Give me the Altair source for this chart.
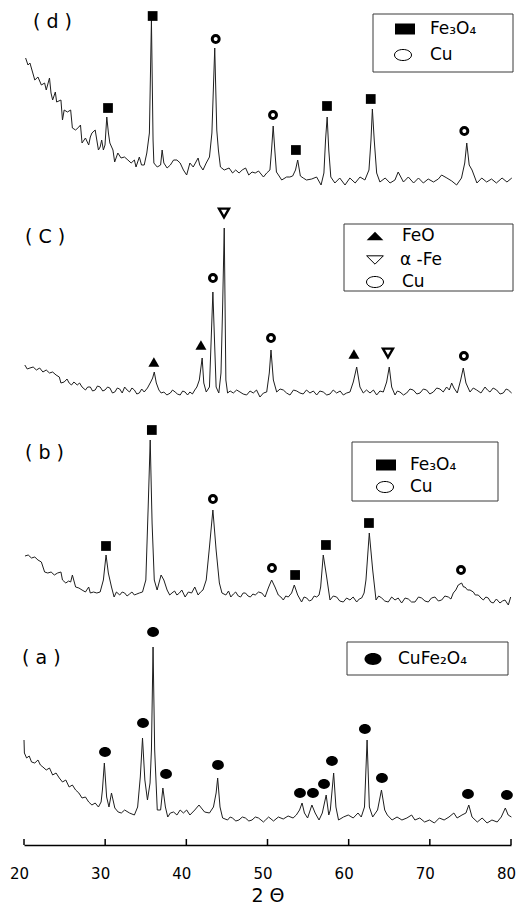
import altair as alt
import pandas as pd

# ---------------- data ----------------
# (2-theta in degrees, intensity in offset arbitrary units; patterns are stacked)
TRACE_D = [(20.2,787),(20.49,780),(20.73,782),(21.05,773),(21.33,765),(21.72,768),(22.14,760),(22.54,762),
           (22.74,755),(23.14,767),(23.33,752),(23.53,745),(23.86,753),(24.02,743),(24.55,745),(24.74,725),
           (24.95,735),(25.35,733),(25.75,735),(25.96,717),(26.36,715),(26.76,718),(26.96,720),(27.15,702),
           (27.57,707),(27.97,700),(28.17,708),(28.37,712),(28.77,715),(29.17,695),(29.38,698),(29.57,705),
           (29.78,695),(29.98,700),(30.2,728),(30.4,712),(30.58,702),(30.96,695),(31.17,683),(31.56,692),
           (31.96,687),(32.38,688),(32.8,685),(33.2,682),(33.6,685),(33.8,678),(34.21,688),(34.48,680),
           (34.81,680),(35.13,692),(35.45,712),(35.7,825),(35.9,705),(36.0,682),(36.2,680),(36.42,678),
           (36.83,680),(37.02,695),(37.23,682),(37.63,677),(38.03,680),(38.43,685),(38.84,685),(39.24,682),
           (39.64,675),(40.04,670),(40.44,682),(40.85,678),(41.45,687),(41.65,680),(42.05,675),(42.45,682),
           (42.85,688),(43.15,712),(43.5,797),(43.75,715),(43.95,695),(44.2,678),(44.67,675),(45.27,677),
           (45.7,672),(46.08,675),(46.5,672),(46.88,675),(47.3,677),(47.69,670),(48.1,673),(48.49,672),
           (48.9,674),(49.5,668),(49.9,672),(50.3,675),(50.5,695),(50.7,719),(50.9,695),(51.1,673),
           (51.35,670),(51.75,665),(52.35,668),(52.75,668),(53.1,669),(53.45,675),(53.72,685),(54.05,669),
           (54.4,667),(54.8,665),(55.45,666),(56.05,668),(56.6,660),(56.95,672),(57.15,705),(57.35,728),
           (57.55,695),(57.8,668),(58.3,662),(58.9,667),(59.55,660),(60.15,667),(60.8,662),(61.4,668),
           (62.0,665),(62.5,675),(62.75,705),(62.92,736),(63.15,705),(63.45,672),(63.85,663),(64.5,667),
           (65.1,662),(65.7,665),(66.1,673),(66.75,663),(67.35,668),(68.0,662),(68.6,667),(69.2,662),
           (69.8,666),(70.45,663),(71.05,666),(71.45,670),(72.1,667),(72.7,664),(73.3,660),(73.9,667),
           (74.3,682),(74.55,702),(74.85,680),(75.2,675),(75.8,662),(76.4,667),(77.0,663),(77.6,666),
           (78.2,662),(78.9,667),(79.5,663),(80.1,667)]

TRACE_C = [(20.1,480),(20.4,476),(20.73,477),(21.13,478),(21.53,475),(21.93,477),(22.33,473),(22.74,475),
           (23.14,472),(23.53,473),(23.95,470),(24.35,468),(24.55,462),(24.95,463),(25.3,466),(25.56,462),
           (25.85,460),(26.15,463),(26.56,460),(26.85,462),(27.15,458),(27.57,455),(27.85,458),(28.17,458),
           (28.45,454),(28.77,455),(29.05,459),(29.38,458),(29.7,454),(29.98,455),(30.3,458),(30.58,457),
           (30.9,452),(31.19,453),(31.5,457),(31.79,456),(32.1,452),(32.4,458),(32.7,455),(33.0,453),
           (33.3,457),(33.6,455),(33.9,451),(34.21,452),(34.5,456),(34.81,453),(35.21,457),(35.61,463),
           (35.85,467),(36.05,473),(36.3,462),(36.62,455),(36.9,452),(37.23,453),(37.6,450),(38.03,452),
           (38.3,455),(38.62,453),(38.9,451),(39.24,450),(39.55,454),(39.85,453),(40.15,450),(40.44,453),
           (40.75,451),(41.04,455),(41.3,458),(41.6,465),(41.95,487),(42.15,462),(42.45,453),(42.85,458),
           (43.06,505),(43.27,553),(43.47,505),(43.67,458),(44.0,452),(44.27,472),(44.47,538),(44.67,617),
           (44.87,465),(45.08,452),(45.4,454),(45.79,452),(46.2,455),(46.61,453),(47.0,451),(47.43,450),
           (47.85,454),(48.25,452),(48.65,455),(49.07,448),(49.5,452),(49.9,453),(50.22,472),(50.43,495),
           (50.72,465),(51.13,453),(51.55,456),(51.95,455),(52.35,452),(52.77,450),(53.2,455),(53.6,454),
           (54.0,452),(54.4,451),(54.8,455),(55.23,452),(55.65,454),(56.06,450),(56.45,454),(56.87,453),
           (57.3,450),(57.7,451),(58.1,455),(58.52,452),(58.95,454),(59.34,450),(59.75,452),(60.16,453),
           (60.57,463),(60.99,478),(61.39,458),(61.8,452),(62.2,455),(62.63,452),(63.05,455),(63.45,450),
           (63.85,454),(64.27,453),(64.68,463),(65.0,478),(65.3,458),(65.71,450),(66.0,454),(66.32,453),
           (66.75,450),(67.15,452),(67.55,456),(67.96,455),(68.4,451),(68.79,452),(69.2,456),(69.6,455),
           (70.0,451),(70.43,453),(70.85,457),(71.25,456),(71.65,453),(72.07,458),(72.4,455),(72.69,462),
           (72.97,457),(73.38,452),(73.8,465),(74.12,477),(74.45,462),(74.95,453),(75.35,457),(75.77,455),
           (76.3,452),(76.8,458),(77.1,455),(77.41,453),(77.8,457),(78.23,455),(78.65,451),(79.05,452),
           (79.4,456),(79.67,455),(80.08,452)]

TRACE_B = [(20.12,289),(20.52,290),(20.92,287),(21.33,288),(21.72,285),(22.14,283),(22.54,273),(22.93,272),
           (23.34,273),(23.74,270),(24.14,272),(24.55,273),(24.74,265),(25.15,262),(25.5,264),(25.75,263),
           (25.96,270),(26.36,258),(26.76,257),(27.15,255),(27.57,253),(27.97,258),(28.17,252),(28.57,253),
           (28.97,252),(29.38,253),(29.78,265),(30.11,290),(30.39,272),(30.78,258),(31.1,248),(31.39,253),
           (31.79,250),(32.1,253),(32.4,252),(32.7,249),(33.0,251),(33.3,253),(33.6,250),(33.9,251),
           (34.21,252),(34.6,253),(35.01,265),(35.3,338),(35.55,405),(35.78,322),(36.05,265),(36.4,255),
           (36.89,270),(37.23,265),(37.63,255),(37.95,250),(38.23,252),(38.55,254),(38.84,250),(39.15,252),
           (39.44,255),(39.85,248),(40.25,253),(40.65,252),(41.04,258),(41.45,250),(41.75,253),(42.05,255),
           (42.45,265),(42.85,298),(43.27,335),(43.67,295),(44.07,262),(44.39,252),(44.87,250),(45.2,254),
           (45.48,248),(45.8,251),(46.08,253),(46.4,249),(46.69,248),(47.0,252),(47.28,252),(47.6,249),
           (47.89,248),(48.2,251),(48.49,250),(48.9,253),(49.3,252),(49.7,248),(50.1,257),(50.51,265),
           (50.92,258),(51.33,250),(51.65,248),(51.95,245),(52.25,249),(52.56,248),(52.97,252),(53.3,260),
           (53.72,250),(54.2,243),(54.5,248),(54.83,247),(55.15,244),(55.44,245),(55.75,249),(56.06,248),
           (56.35,250),(56.55,258),(56.87,290),(57.29,268),(57.7,245),(58.1,249),(58.52,248),(58.9,244),
           (59.34,243),(59.75,247),(60.16,245),(60.55,248),(60.99,243),(61.3,246),(61.6,247),(61.9,252),
           (62.13,265),(62.54,312),(62.96,275),(63.37,245),(63.7,249),(64.07,247),(64.45,244),(64.88,243),
           (65.3,248),(65.71,245),(66.1,247),(66.53,242),(66.95,247),(67.35,246),(67.75,243),(68.17,243),
           (68.6,248),(68.99,247),(69.4,244),(69.81,243),(70.2,247),(70.63,248),(71.05,244),(71.46,245),
           (71.85,249),(72.28,248),(72.6,246),(72.89,252),(73.2,255),(73.5,260),(73.92,262),(74.15,258),
           (74.33,258),(74.65,255),(74.95,255),(75.36,253),(75.6,250),(75.97,250),(76.3,247),(76.59,245),
           (76.9,248),(77.2,247),(77.5,243),(77.82,242),(78.2,246),(78.64,242),(78.95,244),(79.26,245),
           (79.67,240),(79.96,248)]

TRACE_A = [(20.0,105),(20.05,92),(20.32,87),(20.64,89),(20.93,83),(21.33,82),(21.72,85),(22.02,80),
           (22.33,78),(22.74,75),(23.14,77),(23.53,70),(23.95,72),(24.35,67),(24.74,63),(25.15,65),
           (25.56,58),(25.96,60),(26.36,55),(26.76,52),(27.15,47),(27.57,48),(27.97,43),(28.37,40),
           (28.77,42),(29.17,38),(29.5,43),(29.66,55),(29.9,82),(30.18,48),(30.47,38),(30.78,52),
           (31.19,37),(31.6,33),(31.99,32),(32.4,35),(33.0,32),(33.6,30),(34.0,38),(34.33,68),
           (34.6,107),(34.89,65),(35.21,45),(35.53,62),(35.7,95),(35.9,198),(36.1,95),(36.42,35),
           (36.83,35),(37.11,57),(37.42,38),(37.71,28),(38.03,32),(38.43,33),(38.84,30),(39.24,35),
           (39.64,32),(40.04,35),(40.44,30),(41.04,35),(41.56,40),(41.85,37),(42.25,33),(42.85,32),
           (43.34,38),(43.67,52),(43.86,67),(44.15,38),(44.47,27),(45.08,25),(45.4,28),(45.68,27),
           (46.1,24),(46.48,25),(46.9,28),(47.28,27),(47.7,24),(48.09,25),(48.5,28),(48.89,27),
           (49.2,25),(49.5,23),(49.75,25),(50.14,28),(50.74,24),(51.34,28),(51.94,26),(52.54,29),
           (53.15,27),(53.55,30),(53.95,35),(54.26,42),(54.55,32),(54.94,27),(55.47,40),(55.87,32),
           (56.35,25),(56.75,32),(57.23,50),(57.55,30),(57.74,35),(58.15,72),(58.43,38),(58.75,25),
           (59.36,28),(59.95,30),(60.56,27),(61.15,32),(61.55,28),(61.95,38),(62.27,105),(62.55,38),
           (62.96,28),(63.56,35),(64.04,55),(64.44,35),(64.76,30),(65.35,25),(65.96,28),(66.56,25),
           (67.17,27),(67.76,30),(68.16,25),(68.76,27),(69.36,23),(69.96,25),(70.56,22),(71.17,27),
           (71.76,25),(72.36,28),(72.96,32),(73.36,27),(73.96,30),(74.45,32),(74.8,40),(75.2,28),
           (75.85,23),(76.45,27),(77.05,22),(77.65,25),(78.3,23),(78.8,28),(79.3,37),(79.65,30),
           (80.05,28)]

# peak identification symbols (2-theta, height of the symbol)
PEAKS_FE3O4 = [(30.35,737),(35.85,829),(53.5,695),(57.33,739),(62.72,746),
               (30.1,299),(35.75,415),(53.4,270),(57.2,300),(62.5,322)]
PEAKS_CU = [(43.62,806),(50.68,730),(74.25,714),
            (43.28,567),(50.43,507),(74.2,489),
            (43.28,346),(50.55,277),(73.84,275)]
PEAKS_FEO = [(36.0,483),(41.8,500),(60.65,491)]
PEAKS_AFE = [(44.64,632),(64.84,492)]
PEAKS_CUFE2O4 = [(29.98,93),(34.66,122),(35.9,213),(37.5,71),(43.9,80),(54.0,52),(55.6,52),
                 (56.96,61),(57.94,84),(62.0,116),(64.1,67),(74.7,51),(79.5,50)]

TICKS = [20, 30, 40, 50, 60, 70, 80]
PANEL_NAMES = ["( d )", "( C )", "( b )", "( a )"]
LEGEND_LABELS = ["Fe\u2083O\u2084", "Cu", "FeO", "\u03b1 -Fe", "Cu", "Fe\u2083O\u2084", "Cu", "CuFe\u2082O\u2084"]
LEGEND_KINDS = ["sq", "oc", "tu", "td", "oc", "sq", "oc", "fc"]

# ---------------- layout (page pixels) ----------------
OX = 24                    # left edge of plot area on the page
PLOT_W, PLOT_H = 487, 845
PANEL_POS = [(33, 22), (25, 237), (25, 453), (22, 658)]
LEGEND_BOX = [(373, 14, 513, 72), (344, 224, 513, 291), (352, 442, 498, 501), (347, 642, 508, 675)]
LEGEND_SYM = [(405, 29), (403, 55), (375, 236), (375, 260), (375, 282), (386, 465), (385, 487), (373, 659)]
LEGEND_TXT = [(430, 29), (430, 55), (402, 236), (400, 260), (402, 282), (410, 465), (410, 487), (398, 659)]

FONT = "DejaVu Sans"
XS = alt.Scale(domain=[20, 80], nice=False, zero=False)
YS = alt.Scale(domain=[0, PLOT_H], nice=False, zero=False)
XAXIS = alt.Axis(
    values=TICKS, format="d", title="2  \u0398", grid=False, ticks=False, tickSize=0,
    domain=True, domainColor="black", domainWidth=1.5,
    labelFont=FONT, labelFontSize=15, labelColor="black", labelPadding=21,
    labelOffset=-5, labelFlush=False,
    titleFont=FONT, titleFontSize=19, titleFontWeight="normal", titleColor="black",
    titlePadding=5)

# ---------------- traces ----------------
rows = []
for name, tr in [("d", TRACE_D), ("c", TRACE_C), ("b", TRACE_B), ("a", TRACE_A)]:
    for k, (t, v) in enumerate(tr):
        rows.append({"pattern": name, "theta": t, "intensity": v, "k": k})
lines_df = pd.DataFrame(rows)

lines = alt.Chart(lines_df).mark_line(color="#1e1e1e", strokeWidth=1).encode(
    x=alt.X("theta:Q", scale=XS, axis=XAXIS),
    y=alt.Y("intensity:Q", scale=YS, axis=None),
    detail="pattern:N",
    order="k:Q",
)

ticks = alt.Chart(pd.DataFrame({"theta": TICKS})).mark_rule(color="black", strokeWidth=1.5).encode(
    x=alt.X("theta:Q", scale=XS, axis=XAXIS),
    y=alt.value(PLOT_H - 6), y2=alt.value(PLOT_H),
)


def peak_layer(points, **mark):
    df = pd.DataFrame(points, columns=["theta", "intensity"])
    return alt.Chart(df).mark_point(**mark).encode(
        x=alt.X("theta:Q", scale=XS, axis=XAXIS),
        y=alt.Y("intensity:Q", scale=YS, axis=None),
    )


ELLIPSE_FILLED = "M-1,0A1,0.83,0,1,0,1,0A1,0.83,0,1,0,-1,0Z"
peaks = [
    peak_layer(PEAKS_FE3O4, shape="square", filled=True, size=95, color="black", opacity=1),
    peak_layer(PEAKS_CU, shape="circle", filled=False, size=48, strokeWidth=3, color="black", opacity=1),
    peak_layer(PEAKS_FEO, shape="triangle-up", filled=True, size=120, color="black", opacity=1),
    peak_layer(PEAKS_AFE, shape="triangle-down", filled=False, size=100, strokeWidth=2.4, color="black", opacity=1),
    peak_layer(PEAKS_CUFE2O4, shape=ELLIPSE_FILLED, filled=True, size=140, color="black", opacity=1),
]

# ---------------- panel labels ----------------
panel_df = pd.DataFrame({"label": PANEL_NAMES,
                         "px": [p[0] - OX for p in PANEL_POS],
                         "py": [p[1] for p in PANEL_POS]})
panels = alt.Chart(panel_df).mark_text(align="left", baseline="middle", font=FONT, fontSize=19,
                                       color="black").encode(
    x=alt.X("px:Q", scale=None, axis=None), y=alt.Y("py:Q", scale=None, axis=None), text="label:N")

# ---------------- legend boxes ----------------
box_df = pd.DataFrame({"x0": [b[0] - OX for b in LEGEND_BOX], "y0": [b[1] for b in LEGEND_BOX],
                       "x1": [b[2] - OX for b in LEGEND_BOX], "y1": [b[3] for b in LEGEND_BOX]})
boxes = alt.Chart(box_df).mark_rect(fillOpacity=0, stroke="#3a3a3a", strokeWidth=1).encode(
    x=alt.X("x0:Q", scale=None, axis=None), x2="x1:Q",
    y=alt.Y("y0:Q", scale=None, axis=None), y2="y1:Q")

leg_df = pd.DataFrame({"kind": LEGEND_KINDS, "label": LEGEND_LABELS,
                       "sx": [s[0] - OX for s in LEGEND_SYM], "sy": [s[1] for s in LEGEND_SYM],
                       "tx": [t[0] - OX for t in LEGEND_TXT], "ty": [t[1] for t in LEGEND_TXT]})

SYM_STYLE = {
    "sq": dict(shape="M-1,-0.55L1,-0.55L1,0.55L-1,0.55Z", filled=True, size=400),
    "oc": dict(shape="M-1,0A1,0.65,0,1,0,1,0A1,0.65,0,1,0,-1,0Z", filled=False, size=289, strokeWidth=1),
    "tu": dict(shape="M-1,0.5L1,0.5L0,-0.5Z", filled=True, size=280),
    "td": dict(shape="M-1,-0.5L1,-0.5L0,0.5Z", filled=False, size=280, strokeWidth=1),
    "fc": dict(shape="M-1,0A1,0.7,0,1,0,1,0A1,0.7,0,1,0,-1,0Z", filled=True, size=289),
}
leg_syms = []
for kind, style in SYM_STYLE.items():
    leg_syms.append(
        alt.Chart(leg_df).transform_filter(alt.datum.kind == kind)
        .mark_point(color="black", opacity=1, **style)
        .encode(x=alt.X("sx:Q", scale=None, axis=None), y=alt.Y("sy:Q", scale=None, axis=None))
    )

leg_text = alt.Chart(leg_df).mark_text(align="left", baseline="middle", font=FONT, fontSize=17,
                                       color="black").encode(
    x=alt.X("tx:Q", scale=None, axis=None), y=alt.Y("ty:Q", scale=None, axis=None), text="label:N")

chart = alt.layer(lines, ticks, *peaks, panels, boxes, *leg_syms, leg_text).properties(
    width=PLOT_W, height=PLOT_H,
    padding={"left": OX, "top": 0, "right": 529 - OX - PLOT_W, "bottom": 909 - PLOT_H},
    autosize="none",
    background="white",
).configure_view(stroke=None)

chart.save("out.html", embed_options={"renderer": "svg", "actions": False})
